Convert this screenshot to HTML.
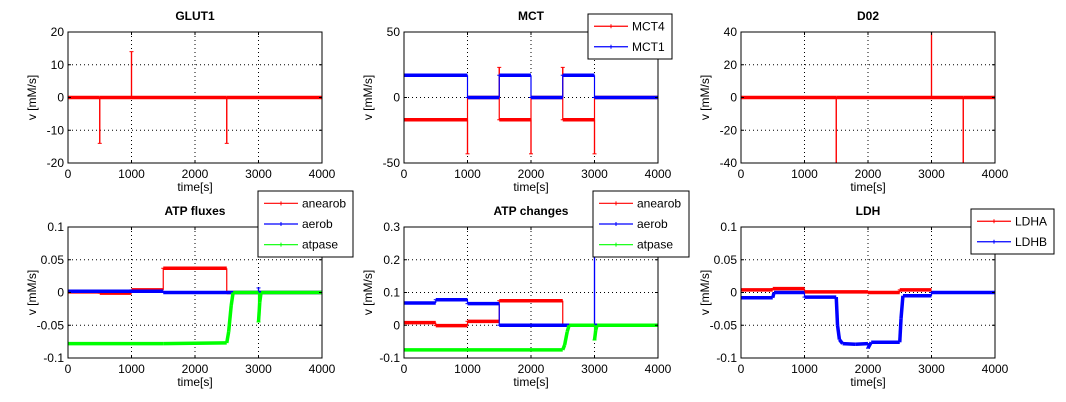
<!DOCTYPE html>
<html><head><meta charset="utf-8"><style>
body{margin:0;background:#fff;}
svg{display:block;font-family:"Liberation Sans",sans-serif;}
</style></head><body>
<svg id="fig" width="1066" height="402" viewBox="0 0 1066 402" xmlns="http://www.w3.org/2000/svg"></svg>
<script>
// ---- data ----
const glutX=[0,500,500,500,1000,1000,1000,2500,2500,2500,4000];
const glutY=[0,0,-14,0,0,14,0,0,-14,0,0];
const mct4X=[0,1000,1000,1000,1500,1500,1500,2000,2000,2000,2500,2500,2500,3000,3000,3000,4000];
const mct4Y=[-17,-17,-43,0,0,23,-17,-17,-43,0,0,23,-17,-17,-43,0,0];
const mct1X=[0,1000,1000,1500,1500,2000,2000,2500,2500,3000,3000,4000];
const mct1Y=[17,17,0,0,17,17,0,0,17,17,0,0];
const d02X=[0,1500,1500,1500,3000,3000,3000,3500,3500,3500,4000];
const d02Y=[0,0,-40,0,0,40,0,0,-40,0,0];
const fAnX=[0,500,500,1000,1000,1500,1500,2500,2500,4000];
const fAnY=[0.001,0.001,-0.001,-0.001,0.004,0.004,0.037,0.037,0,0];
const fAeX=[0,1500,1500,3000,3000,3000,4000];
const fAeY=[0.002,0.002,0,0,0.007,0,0];
const fAtX=[0,1500,2500,2530,2570,2600,3000,3000,3020,3040,4000];
const fAtY=[-0.078,-0.078,-0.077,-0.06,-0.02,0,0,-0.045,-0.015,0,0];
const cAnX=[0,500,500,1000,1000,1500,1500,2500,2500,4000];
const cAnY=[0.008,0.008,-0.001,-0.001,0.012,0.012,0.075,0.075,0,0];
const cAeX=[0,500,500,1000,1000,1500,1500,3000,3000,3000,4000];
const cAeY=[0.068,0.068,0.078,0.078,0.066,0.066,0,0,0.3,0,0];
const cAtX=[0,2500,2530,2570,2600,3000,3000,3020,3040,4000];
const cAtY=[-0.075,-0.075,-0.06,-0.02,0,0,-0.045,-0.015,0,0];
const ldhaX=[0,500,500,1000,1000,2000,2000,2500,2500,3000];
const ldhaY=[0.004,0.004,0.006,0.006,0.001,0.001,0,0,0.004,0.004];
const ldhbX=[0,500,520,1000,1000,1500,1520,1550,1600,1800,2000,2000,2050,2500,2520,2550,3000,3000,4000];
const ldhbY=[-0.008,-0.008,0,0,-0.007,-0.007,-0.05,-0.072,-0.078,-0.079,-0.078,-0.085,-0.076,-0.076,-0.04,-0.005,-0.005,0,0];
const xTicks=[0,1000,2000,3000,4000];

const NS="http://www.w3.org/2000/svg";
const svg=document.getElementById('fig');
function mk(tag,attrs,parent){const e=document.createElementNS(NS,tag);for(const k in attrs)e.setAttribute(k,attrs[k]);(parent||svg).appendChild(e);return e;}

const panels=[
 {name:'glut1',title:'GLUT1',L:68,T:32,ymin:-20,ymax:20,yt:[-20,-10,0,10,20],yl:['-20','-10','0','10','20'],
  series:[{x:glutX,y:glutY,c:'#ff0000',n:'glut1-line'}]},
 {name:'mct',title:'MCT',L:404,T:32,ymin:-50,ymax:50,yt:[-50,0,50],yl:['-50','0','50'],
  series:[{x:mct4X,y:mct4Y,c:'#ff0000',n:'mct4-line'},{x:mct1X,y:mct1Y,c:'#0000ff',n:'mct1-line'}],
  legend:{x:588,y:14,w:84,h:45,items:[['MCT4','#ff0000'],['MCT1','#0000ff']]}},
 {name:'d02',title:'D02',L:741,T:32,ymin:-40,ymax:40,yt:[-40,-20,0,20,40],yl:['-40','-20','0','20','40'],
  series:[{x:d02X,y:d02Y,c:'#ff0000',n:'d02-line'}]},
 {name:'atp-fluxes',title:'ATP fluxes',L:68,T:227,ymin:-0.1,ymax:0.1,yt:[-0.1,-0.05,0,0.05,0.1],yl:['-0.1','-0.05','0','0.05','0.1'],
  series:[{x:fAnX,y:fAnY,c:'#ff0000',n:'anaerob-line'},{x:fAeX,y:fAeY,c:'#0000ff',n:'aerob-line'},{x:fAtX,y:fAtY,c:'#00ff00',n:'atpase-line'}],
  legend:{x:258,y:191,w:95,h:66,items:[['anearob','#ff0000'],['aerob','#0000ff'],['atpase','#00ff00']]}},
 {name:'atp-changes',title:'ATP changes',L:404,T:227,ymin:-0.1,ymax:0.3,yt:[-0.1,0,0.1,0.2,0.3],yl:['-0.1','0','0.1','0.2','0.3'],
  series:[{x:cAnX,y:cAnY,c:'#ff0000',n:'anaerob-line'},{x:cAeX,y:cAeY,c:'#0000ff',n:'aerob-line'},{x:cAtX,y:cAtY,c:'#00ff00',n:'atpase-line'}],
  legend:{x:593,y:191,w:96,h:66,items:[['anearob','#ff0000'],['aerob','#0000ff'],['atpase','#00ff00']]}},
 {name:'ldh',title:'LDH',L:741,T:227,ymin:-0.1,ymax:0.1,yt:[-0.1,-0.05,0,0.05,0.1],yl:['-0.1','-0.05','0','0.05','0.1'],
  series:[{x:ldhaX,y:ldhaY,c:'#ff0000',n:'ldha-line'},{x:ldhbX,y:ldhbY,c:'#0000ff',n:'ldhb-line'}],
  legend:{x:971,y:209,w:83,h:45,items:[['LDHA','#ff0000'],['LDHB','#0000ff']]}}
];
const W=254,H=131;

panels.forEach(p=>{
 const g=mk('g',{});
 
 
 const sx=v=>p.L+(v-0)/(4000-0)*W;
 const sy=v=>p.T+H-(v-p.ymin)/(p.ymax-p.ymin)*H;
 // grid
 xTicks.forEach(t=>{ if(t>0&&t<4000){const l=mk('line',{x1:sx(t),x2:sx(t),y1:p.T,y2:p.T+H,stroke:'#000','stroke-width':1,'stroke-dasharray':'1,3'},g);}});
 p.yt.forEach(t=>{ if(t>p.ymin&&t<p.ymax){const l=mk('line',{x1:p.L,x2:p.L+W,y1:sy(t),y2:sy(t),stroke:'#000','stroke-width':1,'stroke-dasharray':'1,3'},g);}});
 // series
 const clipId='clip-'+p.name;
 const cp=mk('clipPath',{id:clipId},g);mk('rect',{x:p.L-3,y:p.T,width:W+6,height:H},cp);
 p.series.forEach(s=>{
  const sg=mk('g',{'clip-path':'url(#'+clipId+')'},g);
  
  
  for(let i=0;i<s.x.length-1;i++){
   const x1=sx(s.x[i]),x2=sx(s.x[i+1]),y1=sy(s.y[i]),y2=sy(s.y[i+1]);
   const thick=(x2-x1)>0.5;
   const seg=mk('line',{x1:x1,y1:y1,x2:x2,y2:y2,stroke:s.c,'stroke-width':thick?3.5:1.2},sg);
   
   
   if(!thick){const m=mk('line',{x1:x2-2,x2:x2+2,y1:y2,y2:y2,stroke:s.c,'stroke-width':1},sg);
    
    }
  }
 });
 // box
 const b=mk('rect',{x:p.L,y:p.T,width:W,height:H,fill:'none',stroke:'#000','stroke-width':1},g);
 
 // ticks + labels
 xTicks.forEach(t=>{
  mk('line',{x1:sx(t),x2:sx(t),y1:p.T+H,y2:p.T+H-3,stroke:'#000'},g);
  mk('line',{x1:sx(t),x2:sx(t),y1:p.T,y2:p.T+3,stroke:'#000'},g);
  const tx=mk('text',{x:sx(t),y:p.T+H+15,'font-size':12,'text-anchor':'middle'},g);tx.textContent=t;
  
 });
 p.yt.forEach((t,i)=>{
  mk('line',{x1:p.L,x2:p.L+3,y1:sy(t),y2:sy(t),stroke:'#000'},g);
  mk('line',{x1:p.L+W,x2:p.L+W-3,y1:sy(t),y2:sy(t),stroke:'#000'},g);
  const tx=mk('text',{x:p.L-4,y:sy(t)+4,'font-size':12,'text-anchor':'end'},g);tx.textContent=p.yl[i];
  
 });
 const tt=mk('text',{x:p.L+W/2,y:p.T-12,'font-size':12,'font-weight':'bold','text-anchor':'middle'},g);tt.textContent=p.title;
 
 const xl=mk('text',{x:p.L+W/2,y:p.T+H+28,'font-size':12,'text-anchor':'middle'},g);xl.textContent='time[s]';
 
 const yx=p.L-32, yy=p.T+H/2;
 const yl=mk('text',{x:yx,y:yy,'font-size':12,'text-anchor':'middle',transform:'rotate(-90 '+yx+' '+yy+')'},g);yl.textContent='v  [mM/s]';
 
});
// legends drawn last (on top)
panels.forEach(p=>{
 if(!p.legend)return;
 const L=p.legend;
 const lg=mk('g',{});
 
 
 mk('rect',{x:L.x,y:L.y,width:L.w,height:L.h,fill:'#fff',stroke:'#000','stroke-width':1},lg);
 const step=(L.h-4)/L.items.length;
 L.items.forEach((it,i)=>{
  const cy=L.y+2+step*(i+0.5);
  const e=mk('g',{},lg);
  
  
  mk('line',{x1:L.x+6,x2:L.x+40,y1:cy,y2:cy,stroke:it[1],'stroke-width':1.2},e);
  mk('line',{x1:L.x+23,x2:L.x+23,y1:cy-2,y2:cy+2,stroke:it[1],'stroke-width':1},e);
  const t=mk('text',{x:L.x+44,y:cy+4,'font-size':12},e);t.textContent=it[0];
 });
});
</script>
</body></html>
